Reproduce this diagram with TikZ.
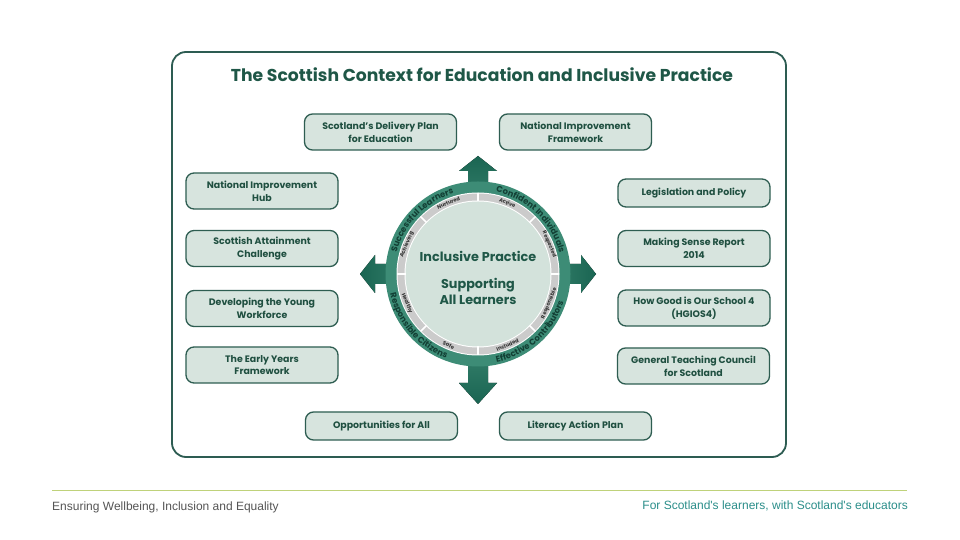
\documentclass[tikz,border=0pt]{standalone}
\usepackage{fontspec}
\setmainfont{Poppins}
\newfontfamily\footfont{Liberation Sans}
\usetikzlibrary{decorations.text}
\definecolor{framec}{HTML}{2D5C52}
\definecolor{titlec}{HTML}{1F5747}
\definecolor{boxfill}{HTML}{D7E4DE}
\definecolor{boxline}{HTML}{2E5D51}
\definecolor{boxtext}{HTML}{1F4F40}
\definecolor{ringc}{HTML}{3D8C76}
\definecolor{ringtext}{HTML}{123F34}
\definecolor{discc}{HTML}{D3E2DB}
\definecolor{grayring}{HTML}{CBCBCB}
\definecolor{arrdark}{HTML}{1A6552}
\definecolor{arrlight}{HTML}{5AA58F}
\definecolor{footline}{HTML}{BFD27A}
\definecolor{footleft}{HTML}{555555}
\definecolor{footright}{HTML}{2B8E8A}
\tikzset{
  ctxbox/.style={draw=boxline, fill=boxfill, line width=1.3pt, rounded corners=8pt,
    minimum width=152pt, minimum height=36pt, align=center, inner sep=0pt,
    font=\bfseries\fontsize{9.4}{12.8}\selectfont, text=boxtext},
  ctxboxs/.style={ctxbox, minimum height=28pt},
  inlab/.style={font=\bfseries\fontsize{5.2}{5.5}\selectfont, text=black!80, inner sep=0pt},
  centertext/.style={font=\bfseries\fontsize{12.8}{16}\selectfont, text=titlec, inner sep=0pt},
  ringlab/.style={decorate, decoration={text along path, text align=center, text color=ringtext}}
}
\begin{document}
\begin{tikzpicture}[x=1pt,y=1pt]
\useasboundingbox (0,0) rectangle (960,540);
\fill[white] (0,0) rectangle (960,540);

% frame
\node[draw=framec, line width=1.8pt, rounded corners=14pt, minimum width=614pt, minimum height=405pt, inner sep=0pt] (frame) at (479,285.5) {};
\node[font=\bfseries\fontsize{17.2}{20}\selectfont, text=titlec] (title) at (482,465) {The Scottish Context for Education and Inclusive Practice};

% boxes
\node[ctxbox] (dplan) at (380.5,408) {Scotland's Delivery Plan\\for Education};
\node[ctxbox] (nif) at (575.5,408) {National Improvement\\Framework};
\node[ctxbox] (hub) at (262,349) {National Improvement\\Hub};
\node[ctxbox] (sac) at (262,291.5) {Scottish Attainment\\Challenge};
\node[ctxbox] (dyw) at (262,231.5) {Developing the Young\\Workforce};
\node[ctxbox] (eyf) at (262,175) {The Early Years\\Framework};
\node[ctxboxs] (leg) at (694,347) {Legislation and Policy};
\node[ctxbox] (msr) at (694,291.5) {Making Sense Report\\2014};
\node[ctxbox] (hgios) at (694,232) {How Good is Our School 4\\(HGIOS4)};
\node[ctxbox] (gtcs) at (693.5,174) {General Teaching Council\\for Scotland};
\node[ctxboxs] (ofa) at (381.5,114) {Opportunities for All};
\node[ctxboxs] (lap) at (575.5,114) {Literacy Action Plan};

% arrows
\fill[top color=arrdark, bottom color=arrlight] (468,266) -- (468,369) -- (459,369) -- (478,384) -- (497,369) -- (488,369) -- (488,266) -- cycle;
\fill[top color=arrlight, bottom color=arrdark] (468,266) -- (468,157) -- (459,157) -- (478,136) -- (497,157) -- (488,157) -- (488,266) -- cycle;
\fill[left color=arrdark, right color=arrlight] (478,256) -- (375,256) -- (375,247) -- (360,266) -- (375,285) -- (375,276) -- (478,276) -- cycle;
\fill[left color=arrlight, right color=arrdark] (478,256) -- (581,256) -- (581,247) -- (596,266) -- (581,285) -- (581,276) -- (478,276) -- cycle;

% circle
\begin{scope}[shift={(478,266)}]
\fill[ringc] (0,0) circle[radius=92.5pt];
\fill[white] (0,0) circle[radius=81.5pt];
\fill[grayring] (0,0) circle[radius=80.5pt];
\fill[white] (0,0) circle[radius=73.5pt];
\fill[discc] (0,0) circle[radius=72.5pt];
\foreach \a in {0,45,...,315} \draw[white, line width=1.6pt] (\a:72.5pt) -- (\a:81pt);
\node[inlab, rotate=22.5] (nurt) at (112.5:77pt) {Nurtured};
\node[inlab, rotate=-22.5] (act) at (67.5:77pt) {Active};
\node[inlab, rotate=-67.5] (resp) at (22.5:77pt) {Respected};
\node[inlab, rotate=67.5] (resb) at (-22.5:77pt) {Responsible};
\node[inlab, rotate=22.5] (incl) at (-67.5:77pt) {Included};
\node[inlab, rotate=-22.5] (safe) at (-112.5:77pt) {Safe};
\node[inlab, rotate=-67.5] (heal) at (-157.5:77pt) {Healthy};
\node[inlab, rotate=67.5] (achv) at (157.5:77pt) {Achieving};
\path[ringlab, decoration={text={|\bfseries\fontsize{8.4}{9}\selectfont|Successful Learners}}] (178:84pt) arc[start angle=178, end angle=94, radius=84pt];
\path[ringlab, decoration={text={|\bfseries\fontsize{8.4}{9}\selectfont|Confident Individuals}}] (88:84pt) arc[start angle=88, end angle=4, radius=84pt];
\path[ringlab, decoration={text={|\bfseries\fontsize{8.4}{9}\selectfont|Effective Contributors}}] (-92:90pt) arc[start angle=-92, end angle=-4, radius=90pt];
\path[ringlab, decoration={text={|\bfseries\fontsize{8.4}{9}\selectfont|Responsible Citizens}}] (-180:90pt) arc[start angle=-180, end angle=-98, radius=90pt];
\node[centertext] (incp) at (0,18) {Inclusive Practice};
\node[centertext, align=center] (sal) at (0,-17) {Supporting\\All Learners};
\end{scope}

% footer
\draw[footline, line width=0.8pt] (52,50) -- (907,50);
\node[anchor=west, font=\footfont\fontsize{12}{14}\selectfont, text=footleft, inner sep=0pt] (fl) at (52,33) {Ensuring Wellbeing, Inclusion and Equality};
\node[anchor=east, font=\footfont\fontsize{12}{14}\selectfont, text=footright, inner sep=0pt] (fr) at (908,34) {For Scotland's learners, with Scotland's educators};
\end{tikzpicture}
\end{document}
